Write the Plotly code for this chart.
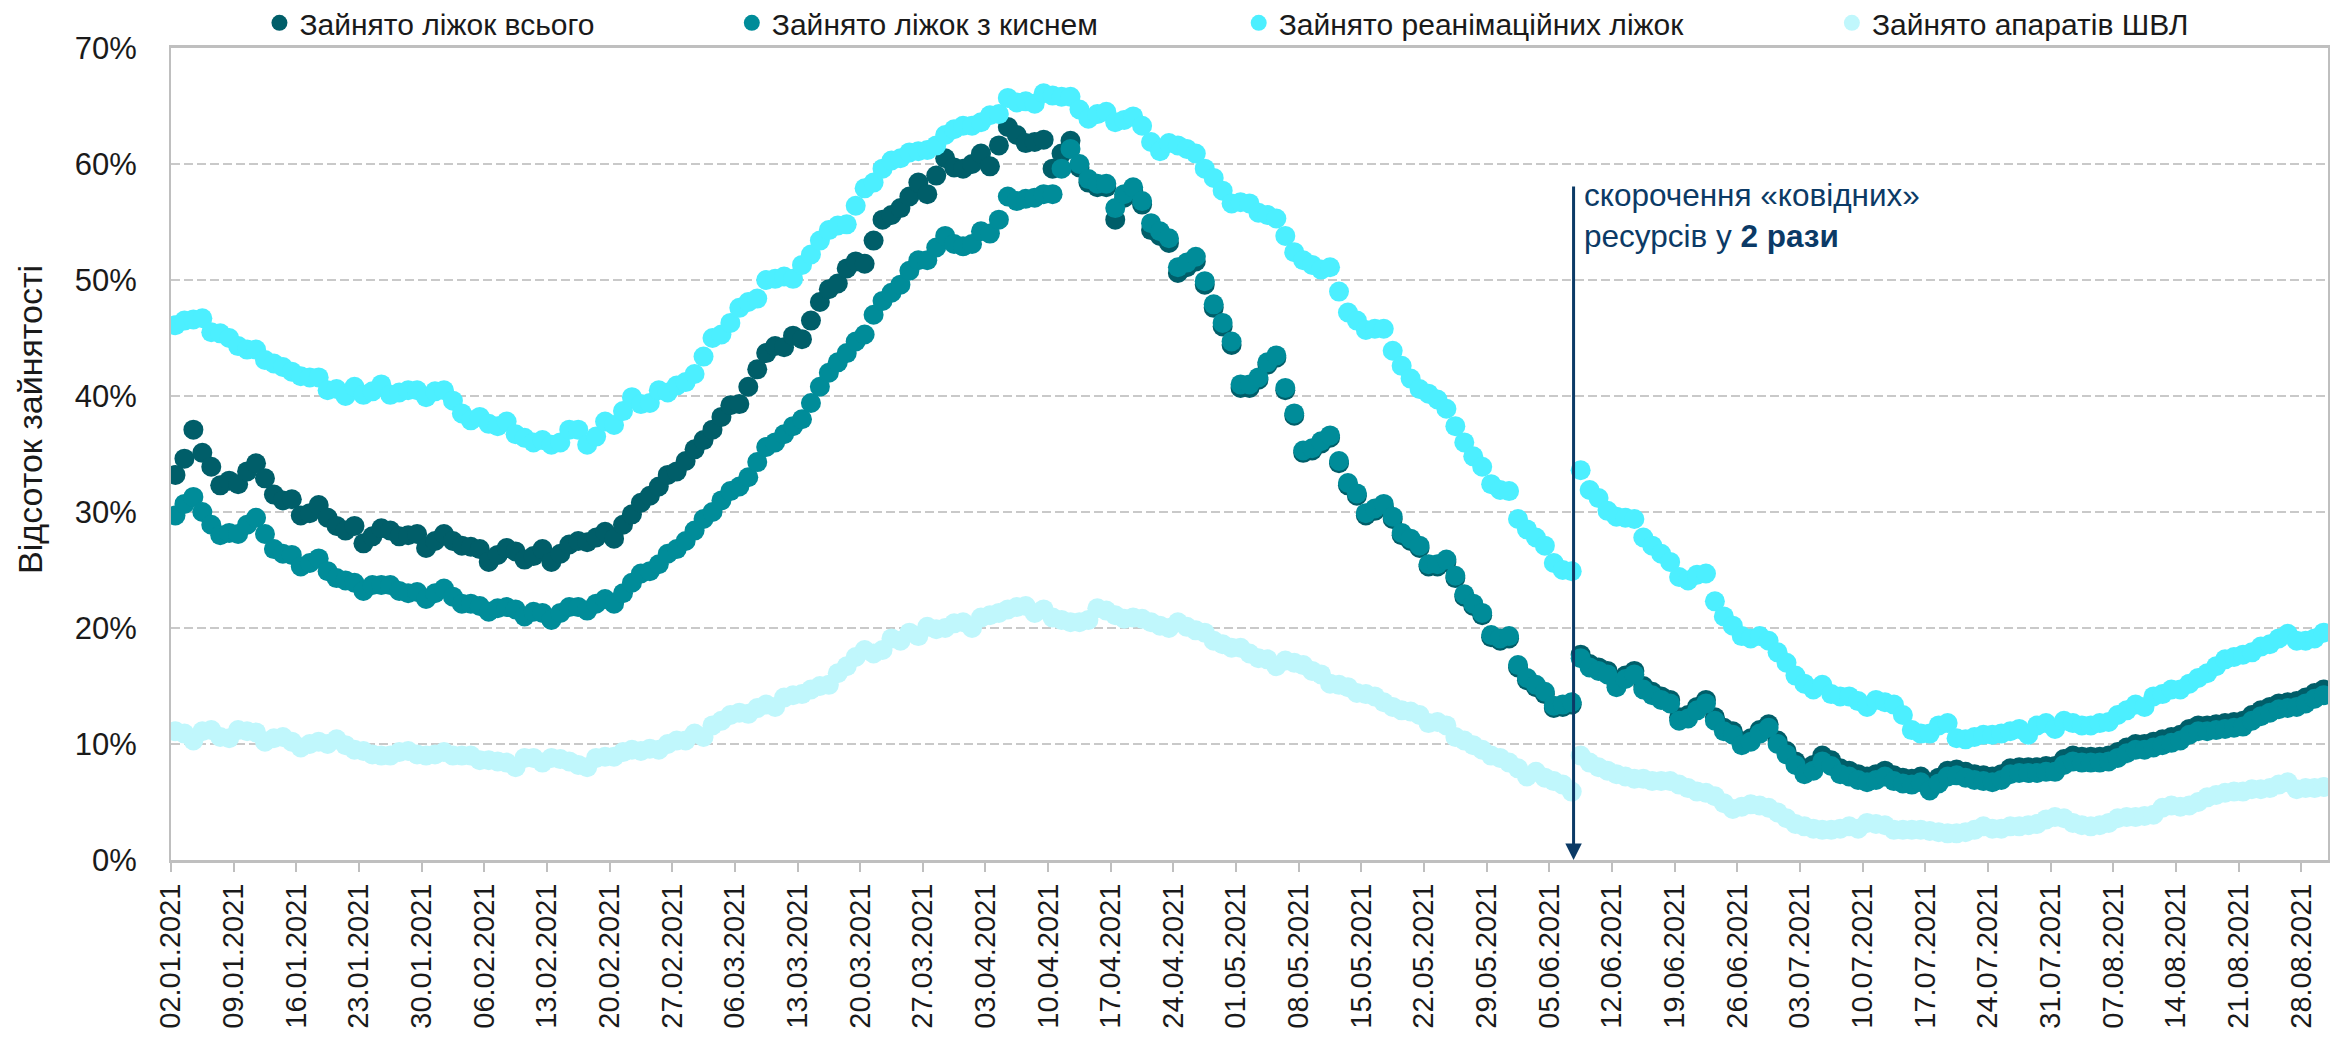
import pandas as pd
import plotly.graph_objects as go

# daily values, 02.01.2021 .. 30.08.2021 (% occupancy)
dates = pd.date_range("2021-01-02 12:00", periods=241, freq="D")

beds_total = [
    33.2, 34.6, 37.1, 35.1, 33.9, 32.3, 32.7, 32.4, 33.5, 34.2,
    32.9, 31.5, 31.0, 31.1, 29.7, 29.9, 30.6, 29.5, 28.8, 28.4,
    28.8, 27.3, 27.9, 28.6, 28.4, 27.9, 28.0, 28.1, 26.9, 27.5,
    28.1, 27.5, 27.1, 27.0, 26.8, 25.7, 26.3, 26.9, 26.6, 25.9,
    26.2, 26.8, 25.7, 26.4, 27.2, 27.5, 27.4, 27.8, 28.3, 27.7,
    28.9, 29.8, 30.8, 31.4, 32.2, 33.2, 33.5, 34.4, 35.4, 36.2,
    37.1, 38.2, 39.2, 39.3, 40.8, 42.3, 43.7, 44.3, 44.2, 45.2,
    44.9, 46.5, 48.1, 49.2, 49.7, 51.0, 51.6, 51.4, 53.4, 55.2,
    55.6, 56.2, 57.2, 58.4, 57.4, 59.0, 60.5, 59.7, 59.6, 60.0,
    60.9, 59.8, 61.6, 63.2, 62.5, 61.8, 61.9, 62.1, 59.6, 60.9,
    62.0, 59.7, 58.4, 58.0, 58.0, 55.2, 57.1, 57.7, 56.5, 54.3,
    53.8, 53.2, 50.6, 51.1, 51.6, 49.6, 47.6, 46.0, 44.4, 40.7,
    40.7, 41.4, 42.7, 43.3, 40.5, 38.3, 35.1, 35.3, 35.9, 36.4,
    34.2, 32.3, 31.4, 29.7, 30.1, 30.5, 29.4, 28.0, 27.5, 26.9,
    25.3, 25.3, 25.7, 24.3, 22.7, 21.9, 21.1, 19.2, 18.9, 19.1,
    16.6, 15.5, 14.9, 14.3, 13.1, 13.2, 13.4, 17.7, 16.9, 16.6,
    16.3, 15.2, 15.9, 16.3, 15.0, 14.5, 14.1, 13.8, 12.3, 12.5,
    13.2, 13.8, 12.3, 11.4, 11.1, 10.2, 10.5, 11.2, 11.7, 10.3,
    9.4, 8.5, 7.9, 8.2, 9.0, 8.6, 7.9, 7.7, 7.4, 7.2,
    7.4, 7.7, 7.3, 7.1, 7.0, 7.2, 6.5, 7.1, 7.7, 7.8,
    7.6, 7.4, 7.3, 7.2, 7.4, 7.9, 8.0, 8.0, 8.0, 8.1,
    8.1, 8.7, 9.0, 8.9, 8.9, 8.9, 9.0, 9.3, 9.7, 10.0,
    10.0, 10.2, 10.4, 10.6, 10.8, 11.3, 11.6, 11.6, 11.7, 11.8,
    11.9, 12.0, 12.5, 12.9, 13.2, 13.5, 13.6, 13.7, 14.0, 14.4, 14.7,
]

beds_oxygen = [
    29.7, 30.7, 31.3, 30.0, 28.9, 28.0, 28.2, 28.1, 28.9, 29.5,
    28.1, 26.8, 26.4, 26.3, 25.3, 25.6, 26.0, 24.9, 24.3, 24.1,
    23.9, 23.2, 23.7, 23.7, 23.7, 23.2, 23.0, 23.1, 22.5, 23.0,
    23.4, 22.7, 22.1, 22.1, 21.9, 21.4, 21.7, 21.8, 21.6, 21.0,
    21.4, 21.3, 20.7, 21.3, 21.8, 21.8, 21.5, 22.1, 22.5, 22.1,
    23.0, 23.9, 24.7, 24.9, 25.5, 26.4, 26.8, 27.5, 28.4, 29.4,
    30.0, 31.0, 31.8, 32.2, 33.0, 34.3, 35.6, 36.0, 36.7, 37.4,
    38.0, 39.4, 40.8, 42.0, 42.9, 43.7, 44.7, 45.3, 47.0, 48.2,
    48.9, 49.6, 50.8, 51.7, 51.7, 52.8, 53.8, 53.1, 52.9, 53.1,
    54.2, 54.0, 55.2, 57.2, 56.8, 57.0, 57.1, 57.4, 57.4, 59.6,
    61.3, 60.0, 58.7, 58.3, 58.3, 56.2, 57.4, 58.0, 56.8, 54.9,
    54.2, 53.6, 51.1, 51.5, 52.0, 49.9, 47.9, 46.3, 44.7, 41.0,
    41.0, 41.6, 42.9, 43.5, 40.7, 38.5, 35.3, 35.5, 36.1, 36.6,
    34.4, 32.5, 31.6, 29.9, 30.3, 30.7, 29.6, 28.2, 27.7, 27.1,
    25.5, 25.5, 25.9, 24.5, 22.9, 22.1, 21.3, 19.4, 19.1, 19.3,
    16.8, 15.7, 15.1, 14.5, 13.3, 13.4, 13.6, 17.4, 16.6, 16.3,
    16.0, 14.9, 15.6, 16.0, 14.7, 14.2, 13.8, 13.5, 12.0, 12.2,
    12.9, 13.5, 12.0, 11.1, 10.8, 9.9, 10.2, 10.9, 11.4, 10.0,
    9.1, 8.2, 7.4, 7.7, 8.5, 8.1, 7.4, 7.2, 6.9, 6.7,
    6.9, 7.2, 6.8, 6.6, 6.5, 6.7, 6.0, 6.6, 7.2, 7.3,
    7.1, 6.9, 6.8, 6.7, 6.9, 7.4, 7.5, 7.5, 7.5, 7.6,
    7.6, 8.2, 8.5, 8.4, 8.4, 8.4, 8.5, 8.8, 9.2, 9.5,
    9.5, 9.7, 9.9, 10.1, 10.3, 10.8, 11.1, 11.1, 11.2, 11.3,
    11.4, 11.5, 12.0, 12.4, 12.7, 13.0, 13.1, 13.2, 13.5, 13.9, 14.2,
]

beds_icu = [
    46.1, 46.5, 46.6, 46.7, 45.5, 45.4, 45.0, 44.3, 44.0, 44.0,
    43.1, 42.8, 42.5, 42.1, 41.7, 41.6, 41.6, 40.5, 40.6, 40.0,
    40.8, 40.1, 40.4, 41.0, 40.1, 40.3, 40.5, 40.5, 39.9, 40.4,
    40.5, 39.6, 38.5, 37.9, 38.2, 37.6, 37.4, 37.8, 36.7, 36.4,
    36.0, 36.2, 35.8, 36.0, 37.1, 37.1, 35.8, 36.5, 37.8, 37.5,
    38.7, 39.9, 39.3, 39.4, 40.5, 40.3, 40.9, 41.2, 41.9, 43.4,
    45.0, 45.3, 46.3, 47.6, 48.1, 48.4, 50.0, 50.1, 50.3, 50.1,
    51.3, 52.2, 53.4, 54.3, 54.7, 54.8, 56.4, 57.9, 58.4, 59.6,
    60.3, 60.5, 61.0, 61.1, 61.2, 61.6, 62.5, 63.0, 63.3, 63.3,
    63.6, 64.2, 64.3, 65.7, 65.3, 65.4, 65.2, 66.1, 65.9, 65.8,
    65.8, 64.7, 63.9, 64.3, 64.5, 63.6, 63.8, 64.1, 63.3, 61.9,
    61.1, 61.8, 61.6, 61.3, 60.9, 59.6, 58.8, 57.7, 56.6, 56.7,
    56.6, 55.8, 55.6, 55.3, 53.8, 52.4, 51.7, 51.3, 50.9, 51.1,
    49.0, 47.2, 46.5, 45.7, 45.8, 45.8, 43.9, 42.6, 41.5, 40.6,
    40.2, 39.7, 38.9, 37.4, 36.0, 34.8, 33.9, 32.4, 31.9, 31.8,
    29.4, 28.5, 27.8, 27.1, 25.6, 25.0, 24.9, 33.6, 31.9, 31.2,
    30.1, 29.6, 29.5, 29.4, 27.8, 27.1, 26.4, 25.7, 24.4, 24.1,
    24.6, 24.7, 22.3, 21.0, 20.2, 19.3, 19.1, 19.3, 18.9, 17.9,
    17.0, 15.9, 15.2, 14.7, 15.1, 14.3, 14.1, 14.1, 13.7, 13.2,
    13.8, 13.6, 13.4, 12.5, 11.2, 10.9, 10.9, 11.6, 11.8, 10.5,
    10.4, 10.6, 10.8, 10.8, 10.9, 11.1, 11.3, 10.8, 11.6, 11.8,
    11.3, 12.0, 11.8, 11.6, 11.6, 11.8, 11.9, 12.5, 12.9, 13.4,
    13.2, 14.1, 14.3, 14.7, 14.7, 15.2, 15.7, 16.1, 16.7, 17.3,
    17.5, 17.7, 17.9, 18.4, 18.6, 19.1, 19.5, 18.9, 18.9, 19.1, 19.6,
]

ventilators = [
    11.1, 10.9, 10.3, 11.1, 11.2, 10.6, 10.5, 11.2, 11.1, 11.0,
    10.2, 10.5, 10.6, 10.2, 9.7, 10.0, 10.2, 10.0, 10.4, 9.9,
    9.5, 9.4, 9.1, 9.0, 9.0, 9.3, 9.4, 9.1, 9.0, 9.1,
    9.3, 9.0, 9.0, 9.0, 8.6, 8.6, 8.5, 8.4, 8.0, 8.8,
    8.8, 8.4, 8.8, 8.7, 8.5, 8.2, 8.0, 8.8, 8.9, 8.9,
    9.3, 9.5, 9.4, 9.6, 9.5, 10.0, 10.3, 10.3, 10.9, 10.6,
    11.6, 12.0, 12.5, 12.7, 12.6, 13.1, 13.4, 13.2, 14.0, 14.2,
    14.3, 14.7, 15.0, 15.1, 16.1, 16.7, 17.5, 18.1, 17.8, 18.1,
    19.1, 18.9, 19.6, 19.3, 20.1, 19.9, 20.0, 20.4, 20.5, 20.0,
    20.9, 21.1, 21.3, 21.6, 21.8, 21.9, 21.3, 21.6, 20.9, 20.7,
    20.5, 20.5, 20.7, 21.7, 21.5, 21.1, 20.8, 20.9, 20.8, 20.5,
    20.2, 20.0, 20.5, 20.1, 19.8, 19.6, 18.9, 18.6, 18.3, 18.3,
    17.8, 17.4, 17.3, 16.7, 17.2, 17.0, 16.8, 16.3, 16.0, 15.2,
    15.1, 14.9, 14.4, 14.3, 14.1, 13.6, 13.2, 12.9, 12.8, 12.5,
    11.8, 11.9, 11.6, 10.6, 10.3, 9.9, 9.5, 9.0, 8.8, 8.4,
    7.9, 7.2, 7.6, 7.1, 6.8, 6.5, 5.9, 9.0, 8.4, 8.0,
    7.7, 7.4, 7.2, 7.0, 7.0, 6.8, 6.8, 6.8, 6.5, 6.2,
    5.9, 5.8, 5.5, 4.9, 4.4, 4.6, 4.8, 4.7, 4.5, 4.1,
    3.6, 3.1, 2.9, 2.7, 2.6, 2.6, 2.7, 2.9, 2.7, 3.2,
    3.1, 3.0, 2.6, 2.6, 2.6, 2.6, 2.5, 2.4, 2.3, 2.3,
    2.4, 2.6, 2.9, 2.7, 2.7, 2.9, 2.9, 3.0, 3.1, 3.5,
    3.7, 3.6, 3.2, 3.0, 2.9, 3.0, 3.2, 3.6, 3.7, 3.7,
    3.8, 3.9, 4.5, 4.7, 4.6, 4.7, 5.0, 5.4, 5.6, 5.8,
    5.9, 5.9, 6.1, 6.1, 6.2, 6.5, 6.7, 6.1, 6.2, 6.2, 6.3,
]

tick_labels = [
    "02.01.2021", "09.01.2021", "16.01.2021", "23.01.2021", "30.01.2021",
    "06.02.2021", "13.02.2021", "20.02.2021", "27.02.2021", "06.03.2021",
    "13.03.2021", "20.03.2021", "27.03.2021", "03.04.2021", "10.04.2021",
    "17.04.2021", "24.04.2021", "01.05.2021", "08.05.2021", "15.05.2021",
    "22.05.2021", "29.05.2021", "05.06.2021", "12.06.2021", "19.06.2021",
    "26.06.2021", "03.07.2021", "10.07.2021", "17.07.2021", "24.07.2021",
    "31.07.2021", "07.08.2021", "14.08.2021", "21.08.2021", "28.08.2021",
]
tick_vals = pd.to_datetime(tick_labels, format="%d.%m.%Y")

series = [
    ("Зайнято ліжок всього", beds_total, "#005E69", "legend"),
    ("Зайнято ліжок з киснем", beds_oxygen, "#008C99", "legend2"),
    ("Зайнято реанімаційних ліжок", beds_icu, "#4CEFFF", "legend3"),
    ("Зайнято апаратів ШВЛ", ventilators, "#C0F7FC", "legend4"),
]

cut_date = "2021-06-07 17:00"   # resources halved
FONT = "Liberation Sans, Arial, sans-serif"

fig = go.Figure()
for name, vals, color, leg in series:
    fig.add_trace(go.Scatter(
        x=dates, y=vals, name=name, mode="markers", legend=leg,
        marker=dict(size=20, color=color, line=dict(width=0)),
    ))

# legend items placed individually like in the original
leg_x = {"legend": 0.041, "legend2": 0.260, "legend3": 0.495, "legend4": 0.770}
legends = {}
for key, xpos in leg_x.items():
    legends[key] = dict(
        x=xpos, y=1.031, xanchor="left", yanchor="middle",
        orientation="h",
        font=dict(family=FONT, size=30, color="#1a1a1a"),
        bgcolor="rgba(0,0,0,0)", itemclick=False,
    )

fig.update_layout(
    width=2333, height=1026,
    margin=dict(l=163, r=13, t=40, b=174, autoexpand=False),
    paper_bgcolor="white", plot_bgcolor="white",
    font=dict(family=FONT, color="#1a1a1a"),
    showlegend=True,
    **legends,
)

fig.update_xaxes(
    range=["2021-01-02", "2021-08-31"],
    tickmode="array", tickvals=tick_vals, ticktext=tick_labels,
    tickangle=-90, tickfont=dict(size=29, family=FONT, color="#1a1a1a"),
    ticks="outside", ticklen=9, tickwidth=2, tickcolor="#BFBFBF",
    showline=True, linecolor="#BFBFBF", linewidth=3, mirror=True,
    showgrid=False, zeroline=False, automargin=False,
)
fig.update_yaxes(
    range=[0, 70], dtick=10, ticksuffix="%",
    tickfont=dict(size=31, family=FONT, color="#1a1a1a"),
    ticks="", ticklabelstandoff=26,
    showline=True, linecolor="#BFBFBF", linewidth=2, mirror=True,
    showgrid=True, gridcolor="#C9C9C9", gridwidth=2, griddash="9px,4px",
    zeroline=False, automargin=False,
)

# crossing tick marks (inside part)
fig.update_layout(xaxis2=dict(
    overlaying="x", anchor="y", range=["2021-01-02", "2021-08-31"],
    tickmode="array", tickvals=tick_vals, showticklabels=False,
    ticks="inside", ticklen=11, tickwidth=2, tickcolor="#BFBFBF",
    showline=False, showgrid=False, zeroline=False, automargin=False,
))

fig.add_annotation(
    text="Відсоток зайнятості", textangle=-90, showarrow=False,
    xref="paper", yref="paper", x=0, y=0.542, xshift=-141,
    xanchor="center", yanchor="middle",
    font=dict(family=FONT, size=34, color="#1a1a1a"),
)

fig.add_annotation(
    x=cut_date, y=0, ax=cut_date, ay=58.2, xref="x", yref="y", axref="x", ayref="y",
    text="", showarrow=True, arrowhead=2, arrowsize=1.1, arrowwidth=3,
    arrowcolor="#0B3A66", standoff=0,
)
fig.add_annotation(
    x=cut_date, y=55.6, xref="x", yref="y", xanchor="left", yanchor="middle",
    xshift=8, align="left", showarrow=False,
    text="скорочення «ковідних»<br>ресурсів у <b>2 рази</b>",
    font=dict(family=FONT, size=31.5, color="#0B3A66"),
)

fig.write_html("out.html")
